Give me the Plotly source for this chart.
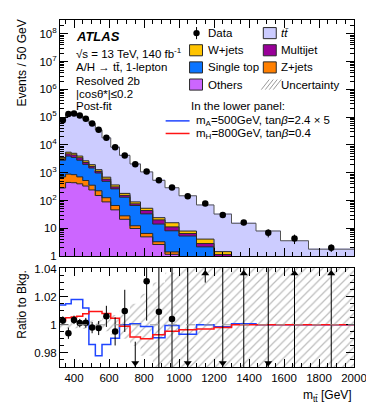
import numpy as np
import plotly.graph_objects as go
from plotly.subplots import make_subplots

# m_tt bin edges [GeV]
bin_edges = [320, 352, 384, 416, 450, 485, 522, 560, 610, 660, 720, 780,
             850, 920, 1000, 1100, 1200, 1300, 1440, 1580, 1740, 2000]

# post-fit backgrounds, events / 50 GeV (stack order bottom -> top)
others = [282, 447, 437, 398, 331, 240, 151, 89, 46, 21, 9.8, 4.9, 2.6, 1.15, 0.4, 0.2, 0.1, 0.05, 0.03, 0.02, 0.01]
zjets = [426, 444, 414, 310, 194, 115, 73, 37, 20, 7, 2.5, 1.6, 0.67, 0.26, 0.15, 0.08, 0.04, 0.02, 0.01, 0.01, 0.005]
single_top = [2110, 3090, 2697, 2110, 1470, 1124, 753, 364, 197, 103, 53.7, 26.5, 10.9, 6.7, 4.7, 1.86, 0.8, 0.4, 0.2, 0.1, 0.05]
multijet = [344, 805, 817, 649, 349, 219, 145, 99, 46, 22, 10, 10.6, 5.9, 3.1, 1.21, 0.68, 0.2, 0.1, 0.05, 0.03, 0.02]
wjets = [386, 709, 647, 514, 348, 252, 166, 103, 54, 27, 13, 8.9, 4.0, 4.6, 1.48, 1.25, 0.3, 0.15, 0.08, 0.04, 0.02]
ttbar = [74450, 123500, 131000, 111000, 84300, 57050, 33700, 17300, 7940, 4020, 1980, 1017,
         508, 272, 140, 65, 31, 14.4, 7.6, 3.35, 1.66]

data = [78000, 129000, 136000, 115000, 87000, 59000, 35000, 18000, 8300, 4200, 2000, 1100,
        537, 295, 141, 77.6, 30.2, 16.2, 6.9, 4.3, 2.0]
data_err = [280, 500, 500, 480, 410, 340, 260, 190, 130, 85, 58, 40, 26, 18, 12, 9, 5.4, 3.4, 2.2, 1.6, 0.6]

# lower panel
ratio_data = [1.003, 0.994, 1.0035, 1.0012, 1.0014, 0.998, 0.9977, 1.006, 0.9953, 1.0099, 0.962, 1.031,
              1.0092, 1.0042, 0.955, 1.12, 0.93, 1.07, 0.87, 1.22, 1.15]
ratio_err = [0.003, 0.004, 0.003, 0.003, 0.0035, 0.004, 0.005, 0.0075, 0.01, 0.015, 0.026, 0.028,
             0.04, 0.06, 0.09, 0.09, 0.18, 0.25, 0.35, 0.5, 0.7]
bkg_unc = [0.003, 0.0025, 0.0025, 0.0025, 0.003, 0.003, 0.0035, 0.0045, 0.007, 0.01, 0.015, 0.022,
           0.03, 0.037, 0.05, 0.1, 0.12, 0.15, 0.2, 0.25, 0.3]
ratio_A500 = [1.014, 1.015, 1.018, 1.018, 1.012, 0.986, 0.978, 0.986, 0.9905, 1.0, 1.0007, 0.9988,
              0.9908, 0.9995, 0.9932, 1.0, 0.9986, 1.0007, 1.0, 1.0, 1.0]
ratio_H800 = [1.003, 1.005, 1.0055, 1.006, 1.0078, 1.0094, 1.0094, 1.008, 1.0047, 0.999, 0.9913, 0.990,
              0.993, 0.9955, 0.9965, 0.997, 0.998, 1.0, 1.0, 1.0, 1.0]

FONT = "Liberation Sans, Arial, sans-serif"
# the page body adds an 8px margin, positions below are in page pixels
PAGE_OFFSET = 8

edges = np.array(bin_edges, dtype=float)
centers = 0.5 * (edges[:-1] + edges[1:])
widths = np.diff(edges)


def step(vals):
    v = np.asarray(vals, dtype=float)
    return np.append(v, v[-1])


fig = make_subplots(rows=2, cols=1, shared_xaxes=True)

# stacked backgrounds
stack = [(others, "#cc66ff"), (zjets, "#ff7f00"), (single_top, "#0a74ff"),
         (multijet, "#990099"), (wjets, "#ffc400"), (ttbar, "#ccccff")]
for vals, col in stack:
    fig.add_trace(go.Bar(x=centers, y=vals, width=widths,
                         marker=dict(color=col, line=dict(color=col, width=0.6)),
                         showlegend=False, hoverinfo="skip"), row=1, col=1)

cum = np.cumsum([np.asarray(v, dtype=float) for v, _ in stack], axis=0)
for i, level in enumerate(cum):
    fig.add_trace(go.Scatter(x=edges, y=step(level), mode="lines",
                             line=dict(shape="hv", color="#555555" if i == 5 else "#2a2a2a", width=1),
                             showlegend=False, hoverinfo="skip"), row=1, col=1)

fig.add_trace(go.Scatter(x=centers, y=data, mode="markers",
                         marker=dict(color="black", size=6.5),
                         error_y=dict(array=data_err, color="black", thickness=1, width=0),
                         showlegend=False), row=1, col=1)

# lower panel: uncertainty band
unc = np.asarray(bkg_unc)
fig.add_trace(go.Scatter(x=edges, y=step(1 - unc), mode="lines", line=dict(shape="hv", width=0),
                         showlegend=False, hoverinfo="skip"), row=2, col=1)
fig.add_trace(go.Scatter(x=edges, y=step(1 + unc), mode="lines", line=dict(shape="hv", width=0),
                         fill="tonexty", fillcolor="rgba(0,0,0,0)",
                         fillpattern=dict(shape="/", fgcolor="#7a7a7a", bgcolor="rgba(0,0,0,0)",
                                          size=6, solidity=0.2),
                         showlegend=False, hoverinfo="skip"), row=2, col=1)
fig.add_hline(y=1, row=2, col=1, line=dict(color="#9a9a9a", width=1, dash="dash"))

fig.add_trace(go.Scatter(x=edges, y=step(ratio_A500), mode="lines",
                         line=dict(shape="hv", color="#1f45ff", width=1.5), showlegend=False), row=2, col=1)
fig.add_trace(go.Scatter(x=edges, y=step(ratio_H800), mode="lines",
                         line=dict(shape="hv", color="#ff1414", width=1.5), showlegend=False), row=2, col=1)

r = np.asarray(ratio_data)
fig.add_trace(go.Scatter(x=centers, y=r, mode="markers",
                         marker=dict(color="black", size=6.5),
                         error_y=dict(array=ratio_err, color="black", thickness=1, width=0),
                         showlegend=False), row=2, col=1)
up = r > 1.04
down = r < 0.97
fig.add_trace(go.Scatter(x=centers[up], y=np.full(up.sum(), 1.0365), mode="markers",
                         marker=dict(symbol="triangle-up", color="black", size=7),
                         showlegend=False), row=2, col=1)
fig.add_trace(go.Scatter(x=centers[down], y=np.full(down.sum(), 0.9728), mode="markers",
                         marker=dict(symbol="triangle-down", color="black", size=7),
                         showlegend=False), row=2, col=1)

# axes
axis_common = dict(showline=True, linecolor="black", linewidth=1, mirror="ticks",
                   ticks="inside", tickcolor="black", ticklen=8, showgrid=False, zeroline=False,
                   ticklabeloverflow="allow",
                   tickfont=dict(family=FONT, size=11.5, color="black"))
fig.update_xaxes(range=[320, 2000], tick0=0, dtick=200,
                 minor=dict(ticks="inside", ticklen=4, dtick=50, tickcolor="black", showgrid=False),
                 **axis_common)
fig.update_xaxes(showticklabels=False, row=1, col=1)
fig.update_xaxes(showticklabels=True, row=2, col=1)

decades = [10 ** k for k in range(9)]
decade_text = ["1", "10"] + ["10<sup>%d</sup>" % k for k in range(2, 9)]
fig.update_yaxes(type="log", range=[0, 8.5], tickmode="array", tickvals=decades, ticktext=decade_text,
                 minor=dict(tickmode="array", tickvals=[m * 10 ** k for k in range(9) for m in range(2, 10)],
                            ticks="inside", ticklen=4, tickcolor="black", showgrid=False),
                 domain=[0.3198, 1.0], row=1, col=1, **axis_common)
fig.update_yaxes(range=[0.97, 1.0405], tickmode="array", tickvals=[0.98, 1.0, 1.02, 1.04],
                 ticktext=["0.98", "1", "1.02", "1.04"],
                 minor=dict(tickmode="array", tickvals=[0.97 + 0.005 * i for i in range(15)],
                            ticks="inside", ticklen=4, tickcolor="black", showgrid=False),
                 domain=[0.0, 0.2858], row=2, col=1, **axis_common)


def X(px):
    return (px - 60) / 295


def Y(py):
    return (359 - py) / 344


annotations = []


def text(px, py, s, size=11.5, xanchor="left", yanchor="middle", angle=0):
    annotations.append(dict(x=X(px), y=Y(py), xref="paper", yref="paper", text=s, showarrow=False,
                            xanchor=xanchor, yanchor=yanchor, textangle=angle,
                            font=dict(family=FONT, size=size, color="black")))


text(74, 31, "<b><i>ATLAS</i></b>", size=13)
text(74, 48, "√s = 13 TeV, 140 fb<sup>-1</sup>")
text(74, 62, "A/H → tt̄, 1-lepton")
text(74, 75, "Resolved 2b")
text(74, 88, "|cosθ*|≤0.2")
text(74, 100, "Post-fit")

text(206, 28, "Data")
text(206, 45, "W+jets")
text(206, 62, "Single top")
text(206, 79, "Others")
text(280, 28, "<i>tt̄</i>")
text(280, 45, "Multijet")
text(280, 62, "Z+jets")
text(280, 79, "Uncertainty")

text(189, 100, "In the lower panel:")
text(194, 115, "m<sub>A</sub>=500GeV, tan<i>β</i>=2.4 × 5")
text(194, 128, "m<sub>H</sub>=800GeV, tan<i>β</i>=0.4")

text(22, 13, "Events / 50 GeV", size=12, xanchor="center", yanchor="top", angle=-90)
text(22, 261, "Ratio to Bkg.", size=12, xanchor="center", yanchor="top", angle=-90)
text(355, 388, "m<sub>tt̄</sub> [GeV]", size=12, xanchor="right")

shapes = []


def box(px0, py0, px1, py1, color):
    shapes.append(dict(type="rect", xref="paper", yref="paper", x0=X(px0), x1=X(px1), y0=Y(py1), y1=Y(py0),
                       fillcolor=color, line=dict(color="#2a2a2a", width=1)))


box(190, 39.5, 203, 50.5, "#ffc400")
box(190, 56.5, 203, 67.5, "#0a74ff")
box(190, 73.5, 203, 84.5, "#cc66ff")
box(264, 22.5, 277, 33.5, "#ccccff")
box(264, 39.5, 277, 50.5, "#990099")
box(264, 56.5, 277, 67.5, "#ff7f00")

# data legend marker
shapes.append(dict(type="line", xref="paper", yref="paper", x0=X(197), x1=X(197), y0=Y(34), y1=Y(22),
                   line=dict(color="black", width=1)))
shapes.append(dict(type="circle", xref="paper", yref="paper", x0=X(193.8), x1=X(200.2), y0=Y(31.2), y1=Y(24.8),
                   fillcolor="black", line=dict(color="black", width=0)))
# uncertainty legend hatch
for off in [0, 4, 8, 12]:
    x0 = 262 + off
    shapes.append(dict(type="line", xref="paper", yref="paper", x0=X(x0), x1=X(x0 + 8), y0=Y(84), y1=Y(74),
                       line=dict(color="#9a9a9a", width=1)))
# lower panel legend lines
shapes.append(dict(type="line", xref="paper", yref="paper", x0=X(166), x1=X(190), y0=Y(115), y1=Y(115),
                   line=dict(color="#1f45ff", width=1.5)))
shapes.append(dict(type="line", xref="paper", yref="paper", x0=X(166), x1=X(190), y0=Y(127.5), y1=Y(127.5),
                   line=dict(color="#ff1414", width=1.5)))

fig.update_layout(width=374 - PAGE_OFFSET, height=409 - PAGE_OFFSET, autosize=False,
                  margin=dict(l=60 - PAGE_OFFSET, r=19 - PAGE_OFFSET, t=15 - PAGE_OFFSET,
                              b=50 - PAGE_OFFSET, pad=0),
                  paper_bgcolor="white", plot_bgcolor="white",
                  barmode="stack", bargap=0, showlegend=False,
                  font=dict(family=FONT, size=12, color="black"),
                  annotations=annotations, shapes=list(fig.layout.shapes) + shapes)

fig.write_html("out.html")
